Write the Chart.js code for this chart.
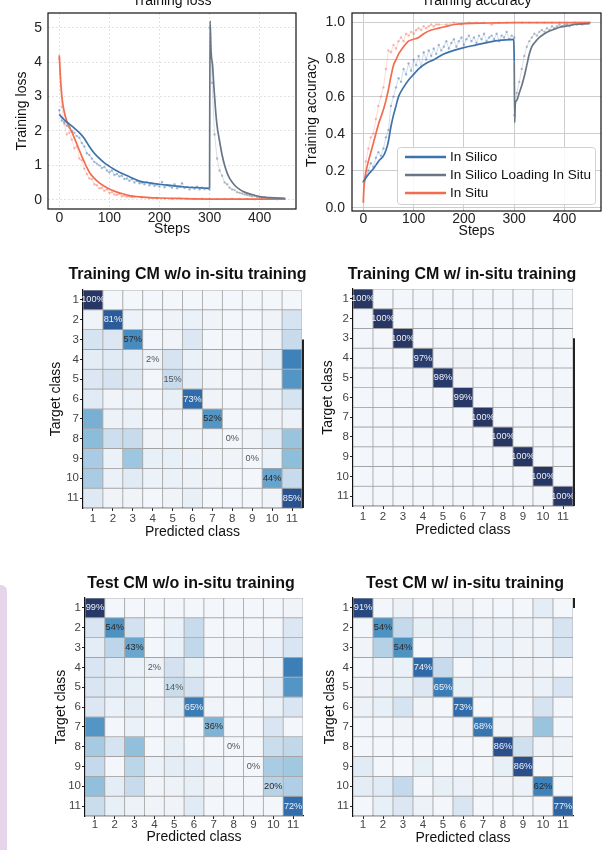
<!DOCTYPE html>
<html>
<head>
    <title>In-situ training results</title>
    <script src="https://cdn.jsdelivr.net/npm/chart.js"></script>
    <style>
        body { margin: 0; background: #fff; width: 605px; height: 850px; position: relative; overflow: hidden; }
        canvas { position: absolute; }
        #tab { position: absolute; left: 0; top: 585px; width: 7px; height: 270px; background: #e6d4ea; border-top-right-radius: 6px; }
    </style>
</head>
<body>
    <div id="tab"></div>

    <!-- Training curves -->
    <canvas id="lossChart" style="left:0px;top:-14px" width="300" height="254"></canvas>
    <canvas id="accChart" style="left:300px;top:-14px" width="305" height="255"></canvas>

    <!-- Confusion matrices -->
    <canvas id="cmTrainWo" style="left:33px;top:258px" width="273" height="286"></canvas>
    <canvas id="cmTrainW" style="left:303px;top:258px" width="274" height="285"></canvas>
    <canvas id="cmTestWo" style="left:35px;top:566px" width="272" height="284"></canvas>
    <canvas id="cmTestW" style="left:303px;top:566px" width="274" height="284"></canvas>

    <script>
        // ---- training loss ----
        const inSituLossSteps = [0,3,6,10,15,20,25,30,35,40,45,50,55,60,70,80,90,100,110,120,130,140,150,160,180,200,225,250,300,350,400,450];
        const inSituLoss = [4.2,3.4,2.9,2.55,2.28,2.12,1.97,1.8,1.62,1.44,1.26,1.1,0.94,0.8,0.62,0.49,0.39,0.31,0.25,0.2,0.16,0.12,0.1,0.08,0.06,0.05,0.04,0.03,0.02,0.02,0.02,0.02];
        const silicoLossSteps = [0,5,10,20,30,40,50,60,70,80,90,100,110,120,140,160,180,200,225,250,275,300];
        const silicoLoss = [2.48,2.4,2.32,2.2,2.08,1.95,1.78,1.55,1.35,1.2,1.07,0.97,0.88,0.8,0.67,0.54,0.49,0.45,0.41,0.37,0.35,0.33];
        const loadingLossSteps = [300,301,303,306,309,312,315,320,325,330,335,340,350,360,370,380,390,400,420,450];
        const loadingLoss = [0.33,5.2,4.3,3.9,3.2,2.6,2.15,1.7,1.3,1.0,0.78,0.62,0.42,0.3,0.22,0.17,0.13,0.09,0.06,0.04];

        // raw (unsmoothed) steps
        const inSituRawSteps = [0,5,10,15,20,25,30,35,40,45,50,55,60,65,70,75,80,85,90,95,100,105,110,115,120,125,130,135,140,145,150,
            165,180,195,210,225,240,255,270,285,300,315,330,345,360,375,390,405,420,435,450];
        const silicoRawSteps = [0,5,10,15,20,25,30,35,40,45,50,55,60,65,70,75,80,85,90,95,100,105,110,115,120,125,130,135,140,145,150,
            155,160,165,170,175,180,185,190,195,200,205,210,215,220,225,230,235,240,245,250,255,260,265,270,275,280,285,290,295,300];
        const loadingRawSteps = [300,305,310,315,320,325,330,335,340,345,350,355,360,365,370,375,380,385,390,395,400,405,410,415,420,425,430,435,440,445,450];

        const inSituLossRaw = [4.1,2.7,2.2,1.9,1.95,1.75,1.5,1.55,1.2,1.15,0.9,0.75,0.62,0.6,0.45,0.42,0.33,0.35,0.26,0.3,0.2,0.22,0.15,0.14,0.17,0.1,0.12,0.09,0.1,0.07,0.08,
            0.06,0.05,0.05,0.04,0.03,0.04,0.03,0.02,0.03,0.02,0.02,0.02,0.03,0.02,0.02,0.01,0.02,0.02,0.01,0.02];
        const silicoLossRaw = [2.6,2.3,2.25,2.15,2.1,2.0,1.95,1.85,1.8,1.65,1.55,1.35,1.3,1.2,1.1,1.05,1.0,0.92,0.95,0.85,
            0.8,0.85,0.72,0.75,0.68,0.7,0.6,0.62,0.55,0.6,0.5,0.55,0.48,0.5,0.45,0.52,0.42,0.47,0.4,0.44,
            0.38,0.52,0.36,0.42,0.4,0.35,0.45,0.33,0.38,0.48,0.34,0.37,0.3,0.36,0.32,0.38,0.3,0.35,0.31,0.33,0.3];
        const loadingLossRaw = [5.0,3.4,1.9,1.2,0.85,0.7,0.5,0.45,0.35,0.3,0.28,0.22,0.2,0.18,0.15,0.14,0.12,0.1,0.11,0.08,
            0.07,0.06,0.07,0.05,0.05,0.04,0.05,0.03,0.04,0.03,0.03];

        // ---- training accuracy ----
        const inSituAccSteps = [0,1,3,5,10,15,20,25,30,35,40,45,50,55,60,65,70,80,90,100,110,120,135,150,165,180,200,250,300,350,400,450];
        const inSituAcc = [0.03,0.1,0.15,0.19,0.25,0.3,0.35,0.4,0.45,0.49,0.53,0.58,0.64,0.71,0.77,0.8,0.83,0.87,0.9,0.91,0.92,0.94,0.96,0.97,0.98,0.99,0.995,0.998,1.0,1.0,1.0,1.0];
        const silicoAccSteps = [0,5,10,20,30,40,45,50,55,60,65,70,80,90,100,110,125,140,160,180,200,225,250,275,299,300];
        const silicoAcc = [0.14,0.16,0.18,0.21,0.25,0.28,0.31,0.36,0.44,0.5,0.55,0.6,0.65,0.69,0.72,0.75,0.78,0.8,0.83,0.85,0.865,0.88,0.895,0.905,0.91,0.79];
        const loadingAccSteps = [300,301,302,305,310,315,320,325,330,335,340,350,360,370,380,390,400,420,450];
        const loadingAcc = [0.79,0.46,0.56,0.58,0.62,0.66,0.71,0.77,0.83,0.87,0.89,0.92,0.94,0.955,0.965,0.975,0.98,0.99,0.995];

        const inSituAccRaw = [0.03,0.25,0.32,0.38,0.4,0.48,0.55,0.6,0.65,0.75,0.85,0.84,0.88,0.86,0.9,0.92,0.9,0.94,0.93,0.95,0.94,0.96,0.97,0.96,0.98,0.97,0.98,0.99,0.98,0.99,0.99,
            0.99,1.0,0.99,1.0,1.0,1.0,0.99,1.0,1.0,1.0,1.0,1.0,1.0,1.0,1.0,1.0,1.0,1.0,1.0,1.0];
        const silicoAccRaw = [0.14,0.17,0.2,0.24,0.22,0.27,0.3,0.28,0.32,0.38,0.42,0.55,0.6,0.65,0.7,0.68,0.75,0.72,0.78,0.74,
            0.8,0.77,0.82,0.76,0.84,0.8,0.85,0.82,0.86,0.83,0.88,0.85,0.87,0.9,0.86,0.89,0.91,0.87,0.9,0.92,
            0.88,0.91,0.93,0.9,0.92,0.89,0.93,0.91,0.94,0.9,0.92,0.93,0.91,0.94,0.9,0.93,0.92,0.95,0.91,0.93,0.92];
        const loadingAccRaw = [0.5,0.62,0.68,0.75,0.82,0.87,0.9,0.92,0.94,0.93,0.95,0.96,0.95,0.97,0.96,0.98,0.97,0.98,0.99,0.98,
            0.99,0.99,0.98,0.99,1.0,0.99,1.0,0.99,1.0,1.0,1.0];

        const stepTicks = [0, 100, 200, 300, 400];
        const lossTicks = [0, 1, 2, 3, 4, 5];
        const accTicks = [0, 0.2, 0.4, 0.6, 0.8, 1.0];

        // ---- confusion matrices (% of target class), rows = target, cols = predicted ----
        const classes = ['1','2','3','4','5','6','7','8','9','10','11'];
        const trainWithout = [
            [100,0,0,0,0,0,0,0,0,0,0],
            [1,81,2,0,1,3,1,0,0,1,10],
            [10,8,57,0,1,8,0,0,0,1,15],
            [5,6,5,2,10,3,1,0,1,5,62],
            [8,10,7,0,15,5,1,0,1,1,52],
            [6,1,2,0,4,73,1,0,1,2,10],
            [38,2,3,0,1,1,52,0,0,1,2],
            [32,13,15,1,2,1,1,0,1,6,28],
            [24,3,27,4,4,2,1,1,0,3,31],
            [24,3,6,2,3,2,1,0,0,44,15],
            [7,1,1,0,1,4,0,0,0,1,85]
        ];
        const trainWith = [
            [100,0,0,0,0,0,0,0,0,0,0],
            [0,100,0,0,0,0,0,0,0,0,0],
            [0,0,100,0,0,0,0,0,0,0,0],
            [0,0,0,97,1,1,0,0,1,0,0],
            [0,0,0,1,98,1,0,0,0,0,0],
            [0,0,0,0,0,99,0,0,0,0,1],
            [0,0,0,0,0,0,100,0,0,0,0],
            [0,0,0,0,0,0,0,100,0,0,0],
            [0,0,0,0,0,0,0,0,100,0,0],
            [0,0,0,0,0,0,0,0,0,100,0],
            [0,0,0,0,0,0,0,0,0,0,100]
        ];
        const testWithout = [
            [99,0,0,0,0,0,0,0,0,0,1],
            [9,54,11,0,3,15,0,0,0,0,8],
            [5,18,43,0,3,17,0,1,1,3,9],
            [9,6,3,2,11,4,0,0,0,1,64],
            [9,6,4,0,14,10,0,0,0,5,52],
            [8,3,5,1,5,65,1,0,0,3,9],
            [52,0,3,0,0,0,36,0,0,9,0],
            [25,10,30,0,4,0,0,0,0,14,17],
            [16,0,19,3,5,5,2,0,0,24,26],
            [30,5,15,1,2,4,1,0,0,20,22],
            [14,4,2,1,1,6,0,0,0,0,72]
        ];
        const testWith = [
            [91,0,2,0,1,1,0,0,0,5,0],
            [0,54,16,4,4,5,2,2,2,1,10],
            [1,21,54,0,2,5,2,3,1,2,9],
            [0,2,3,74,15,0,3,1,1,1,0],
            [1,2,4,8,65,4,2,1,1,3,9],
            [2,4,10,1,0,73,0,0,0,10,0],
            [0,0,1,0,0,1,68,1,1,28,0],
            [0,0,0,0,0,0,0,86,12,1,1],
            [6,0,0,4,0,0,0,4,86,0,0],
            [5,6,16,0,4,3,1,1,2,62,0],
            [0,4,8,2,0,9,0,0,0,0,77]
        ];

        const FONT = '"Liberation Sans", Arial, Helvetica, sans-serif';
        Chart.defaults.font.family = FONT;
        Chart.defaults.color = '#222';

        const BLUE = '61,114,170', GRAY = '104,118,136', ORANGE = '243,108,80';

        // title drawn above the plot area
        const headline = {
            id: 'headline',
            afterDraw(chart, args, o) {
                if (!o.text) return;
                const { ctx, chartArea: a } = chart;
                ctx.save();
                ctx.font = o.font;
                ctx.fillStyle = '#111';
                ctx.textAlign = 'center';
                ctx.textBaseline = 'middle';
                ctx.fillText(o.text, (a.left + a.right) / 2 + (o.dx || 0), a.top - o.gap);
                ctx.restore();
            }
        };

        // box round the plot area
        const frame = {
            id: 'frame',
            afterDraw(chart, args, o) {
                if (!o.color) return;
                const { ctx, chartArea: a } = chart;
                ctx.save();
                ctx.strokeStyle = o.color;
                ctx.lineWidth = o.width;
                ctx.strokeRect(a.left, a.top, a.right - a.left, a.bottom - a.top);
                ctx.restore();
            }
        };

        // legend box inside the accuracy plot
        const boxLegend = {
            id: 'boxLegend',
            afterDraw(chart, args, o) {
                if (!o.width) return;
                const { ctx, chartArea: a } = chart;
                const items = chart.data.datasets.filter(d => d.label);
                const x = a.right - o.right - o.width, y = a.bottom - o.bottom - o.height;
                ctx.save();
                ctx.fillStyle = 'rgba(255,255,255,0.85)';
                ctx.strokeStyle = '#d0d0d0';
                ctx.lineWidth = 1;
                ctx.beginPath();
                ctx.roundRect(x + 0.5, y + 0.5, o.width, o.height, 3);
                ctx.fill();
                ctx.stroke();
                ctx.font = o.font;
                ctx.textBaseline = 'middle';
                items.forEach((d, i) => {
                    const cy = y + o.first + i * o.step;
                    ctx.strokeStyle = d.borderColor;
                    ctx.lineWidth = 2.4;
                    ctx.beginPath();
                    ctx.moveTo(x + 8, cy);
                    ctx.lineTo(x + 49, cy);
                    ctx.stroke();
                    ctx.fillStyle = '#111';
                    ctx.fillText(d.label, x + 53, cy);
                });
                ctx.restore();
            }
        };

        function curve(label, steps, vals, rgb) {
            return {
                label: label,
                data: steps.map((s, i) => ({ x: s, y: vals[i] })),
                borderColor: 'rgb(' + rgb + ')',
                borderWidth: 1.7,
                pointRadius: 0,
                cubicInterpolationMode: 'monotone',
                order: 1
            };
        }
        function rawCurve(steps, vals, rgb) {
            return {
                label: '',
                data: steps.map((s, i) => ({ x: s, y: vals[i] })),
                borderColor: 'rgba(' + rgb + ',0.3)',
                backgroundColor: 'rgba(' + rgb + ',0.45)',
                borderWidth: 0.8,
                pointRadius: 1.2,
                pointBorderWidth: 0,
                order: 2
            };
        }

        function lineOptions(o) {
            return {
                responsive: false,
                animation: false,
                layout: { padding: { top: 27, right: o.padRight, left: 0, bottom: 0 } },
                plugins: {
                    legend: { display: false },
                    tooltip: { enabled: false },
                    headline: { text: o.title, font: '14px ' + FONT, gap: 12 },
                    frame: { color: '#111', width: 1.2 },
                    boxLegend: o.legend || {}
                },
                scales: {
                    x: {
                        type: 'linear', min: -22.5, max: 472.5,
                        afterBuildTicks: s => { s.ticks = stepTicks.map(v => ({ value: v })); },
                        afterFit: s => { s.height = o.xHeight; },
                        grid: { color: o.gridColor, drawTicks: false },
                        border: { display: false, dash: o.dash },
                        ticks: { font: { size: 14 }, color: '#222', padding: o.xPad, maxRotation: 0 },
                        title: { display: true, text: 'Steps', font: { size: 14 }, color: '#111', padding: { top: 0, bottom: o.stepsPad } }
                    },
                    y: {
                        min: o.yMin, max: o.yMax,
                        afterBuildTicks: s => { s.ticks = o.yTicks.map(v => ({ value: v })); },
                        afterFit: s => { s.width = o.yWidth; },
                        grid: { color: o.gridColor, drawTicks: false },
                        border: { display: false, dash: o.dash },
                        ticks: { font: { size: 14 }, color: '#222', padding: o.yPad, callback: o.fmt },
                        title: { display: true, text: o.yTitle, font: { size: 14 }, color: '#111', padding: { top: o.yTitlePad, bottom: 0 } }
                    }
                }
            };
        }

        new Chart(document.getElementById('lossChart'), {
            type: 'line',
            data: {
                datasets: [
                    curve('In Silico', silicoLossSteps, silicoLoss, BLUE),
                    curve('In Silico Loading In Situ', loadingLossSteps, loadingLoss, GRAY),
                    curve('In Situ', inSituLossSteps, inSituLoss, ORANGE),
                    rawCurve(silicoRawSteps, silicoLossRaw, BLUE),
                    rawCurve(loadingRawSteps, loadingLossRaw, GRAY),
                    rawCurve(inSituRawSteps, inSituLossRaw, ORANGE)
                ]
            },
            options: lineOptions({
                title: 'Training loss', padRight: 2, xHeight: 31, yWidth: 48,
                yMin: -0.27, yMax: 5.43, yTicks: lossTicks, fmt: v => v,
                gridColor: '#e2e2e2', dash: [2, 2], xPad: 1, yPad: 6, stepsPad: 2,
                yTitle: 'Training loss', yTitlePad: 14
            }),
            plugins: [headline, frame]
        });

        new Chart(document.getElementById('accChart'), {
            type: 'line',
            data: {
                datasets: [
                    curve('In Silico', silicoAccSteps, silicoAcc, BLUE),
                    curve('In Silico Loading In Situ', loadingAccSteps, loadingAcc, GRAY),
                    curve('In Situ', inSituAccSteps, inSituAcc, ORANGE),
                    rawCurve(silicoRawSteps, silicoAccRaw, BLUE),
                    rawCurve(loadingRawSteps, loadingAccRaw, GRAY),
                    rawCurve(inSituRawSteps, inSituAccRaw, ORANGE)
                ]
            },
            options: lineOptions({
                title: 'Training accuracy', padRight: 3, xHeight: 30, yWidth: 52,
                yMin: -0.018, yMax: 1.052, yTicks: accTicks, fmt: v => v.toFixed(1),
                gridColor: '#cdcdcd', dash: [], xPad: 0, yPad: 7, stepsPad: 1,
                yTitle: 'Training accuracy', yTitlePad: 4,
                legend: { width: 198, height: 57, right: 6, bottom: 7, first: 10, step: 18, font: '13.5px ' + FONT }
            }),
            plugins: [headline, frame, boxLegend]
        });

        // ---- confusion matrix helpers ----
        const blueStops = [
            [0, [243, 246, 250]], [5, [228, 237, 246]], [10, [214, 227, 241]], [20, [184, 211, 232]],
            [30, [146, 192, 220]], [40, [113, 171, 209]], [55, [76, 144, 193]], [65, [58, 124, 181]],
            [75, [46, 104, 166]], [88, [40, 76, 136]], [100, [40, 54, 100]]
        ];
        function cellColor(v) {
            for (let i = 1; i < blueStops.length; i++) {
                const [v0, c0] = blueStops[i - 1], [v1, c1] = blueStops[i];
                if (v <= v1) {
                    const t = (v - v0) / (v1 - v0);
                    return 'rgb(' + c0.map((c, k) => Math.round(c + (c1[k] - c) * t)).join(',') + ')';
                }
            }
            return 'rgb(40,54,100)';
        }

        const diagLabels = {
            id: 'diagLabels',
            afterDatasetsDraw(chart) {
                const { ctx } = chart;
                ctx.save();
                ctx.font = '9.2px ' + FONT;
                ctx.textAlign = 'center';
                ctx.textBaseline = 'middle';
                chart.data.datasets.forEach((ds, r) => {
                    const bar = chart.getDatasetMeta(r).data[r];
                    const v = ds.cells[r];
                    ctx.fillStyle = v >= 63 ? '#edf2fa' : (v < 20 ? '#555' : '#2a2a2a');
                    ctx.fillText(v + '%', bar.x, (bar.y + bar.base) / 2);
                });
                ctx.restore();
            }
        };

        const edgeMark = {
            id: 'edgeMark',
            afterDraw(chart, args, o) {
                if (o.from === undefined) return;
                const { ctx, chartArea: a, scales } = chart;
                ctx.save();
                ctx.strokeStyle = '#222';
                ctx.lineWidth = 2;
                ctx.beginPath();
                ctx.moveTo(a.right + 1, scales.y.getPixelForValue(o.from));
                ctx.lineTo(a.right + 1, scales.y.getPixelForValue(o.to));
                ctx.stroke();
                ctx.restore();
            }
        };

        function confusion(id, title, matrix, o) {
            new Chart(document.getElementById(id), {
                type: 'bar',
                data: {
                    labels: classes,
                    datasets: matrix.map((row, r) => ({
                        label: 'Target ' + classes[r],
                        cells: row,
                        data: row.map(() => [r, r + 1]),
                        backgroundColor: row.map(cellColor),
                        borderColor: 'rgba(150,150,150,0.75)',
                        borderWidth: 0.8,
                        borderSkipped: false,
                        grouped: false,
                        barPercentage: 1,
                        categoryPercentage: 1
                    }))
                },
                options: {
                    responsive: false,
                    animation: false,
                    layout: { padding: { top: o.top, right: 4, left: 0, bottom: 0 } },
                    plugins: {
                        legend: { display: false },
                        tooltip: { enabled: false },
                        headline: { text: title, font: 'bold 16px ' + FONT, gap: o.gap, dx: o.dx },
                        edgeMark: o.edge || {}
                    },
                    scales: {
                        x: {
                            type: 'category',
                            afterFit: s => { s.height = o.xh; },
                            grid: { drawOnChartArea: false, offset: false, tickLength: 3, tickColor: '#222' },
                            border: { display: true, color: '#111', width: 1.2 },
                            ticks: { font: { size: 11.5 }, color: '#444', padding: o.tp, maxRotation: 0, autoSkip: false },
                            title: { display: true, text: 'Predicted class', font: { size: 14 }, color: '#111', padding: { top: 0, bottom: o.pb } }
                        },
                        y: {
                            type: 'linear', min: 0, max: 11, reverse: true,
                            afterBuildTicks: s => { s.ticks = classes.map((c, i) => ({ value: i + 0.5 })); },
                            afterFit: s => { s.width = 50; },
                            grid: { drawOnChartArea: false, tickLength: 3, tickColor: '#222' },
                            border: { display: true, color: '#111', width: 1.2 },
                            ticks: { font: { size: 11.5 }, color: '#444', padding: 1, autoSkip: false, callback: v => classes[Math.round(v - 0.5)] },
                            title: { display: true, text: 'Target class', font: { size: 14 }, color: '#111', padding: { top: o.pt, bottom: 0 } }
                        }
                    }
                },
                plugins: [headline, diagLabels, edgeMark]
            });
        }

        confusion('cmTrainWo', 'Training CM w/o in-situ training', trainWithout,
            { top: 32, gap: 15, dx: -5, pt: 15, pb: 3, xh: 36, tp: 1, edge: { from: 2.5, to: 11 } });
        confusion('cmTrainW', 'Training CM w/ in-situ training', trainWith,
            { top: 31, gap: 14, dx: -1, pt: 17, pb: 4, xh: 37, tp: 1, edge: { from: 2.5, to: 11 } });
        confusion('cmTestWo', 'Test CM w/o in-situ training', testWithout,
            { top: 32, gap: 14, dx: -3, pt: 18, pb: 4, xh: 34, tp: -1.5 });
        confusion('cmTestW', 'Test CM w/ in-situ training', testWith,
            { top: 32, gap: 14, dx: 2, pt: 18.5, pb: 3, xh: 34, tp: -1.5, edge: { from: 0, to: 0.5 } });
    </script>
</body>
</html>
